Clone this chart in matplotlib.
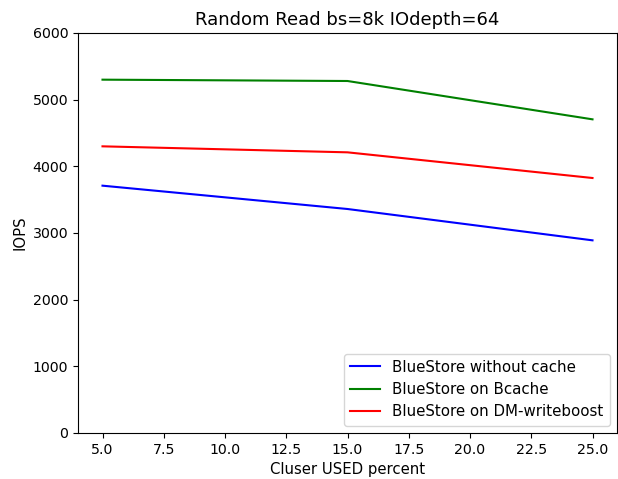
import matplotlib
matplotlib.use("Agg")
import matplotlib.pyplot as plt

x = [5, 15, 25]
no_cache = [3710, 3360, 2890]
bcache = [5300, 5280, 4705]
writeboost = [4300, 4210, 3825]

fig = plt.figure(figsize=(6.18, 4.79), dpi=100)
ax = fig.add_axes([78/618, 1-433/479, (617-78)/618, (433-33)/479])
ax.plot(x, no_cache, color='blue', label='BlueStore without cache')
ax.plot(x, bcache, color='green', label='BlueStore on Bcache')
ax.plot(x, writeboost, color='red', label='BlueStore on DM-writeboost')
ax.set_ylim(0, 6000)
ax.set_xticks([5, 7.5, 10, 12.5, 15, 17.5, 20, 22.5, 25])
ax.tick_params(labelsize=10.2)
ax.set_title('Random Read bs=8k IOdepth=64', fontsize=13)
ax.set_xlabel('Cluser USED percent', fontsize=10.7)
ax.set_ylabel('IOPS', fontsize=10.7)
ax.legend(loc='lower right', prop={'size': 10.8})
fig.savefig('out.png', dpi=100)
